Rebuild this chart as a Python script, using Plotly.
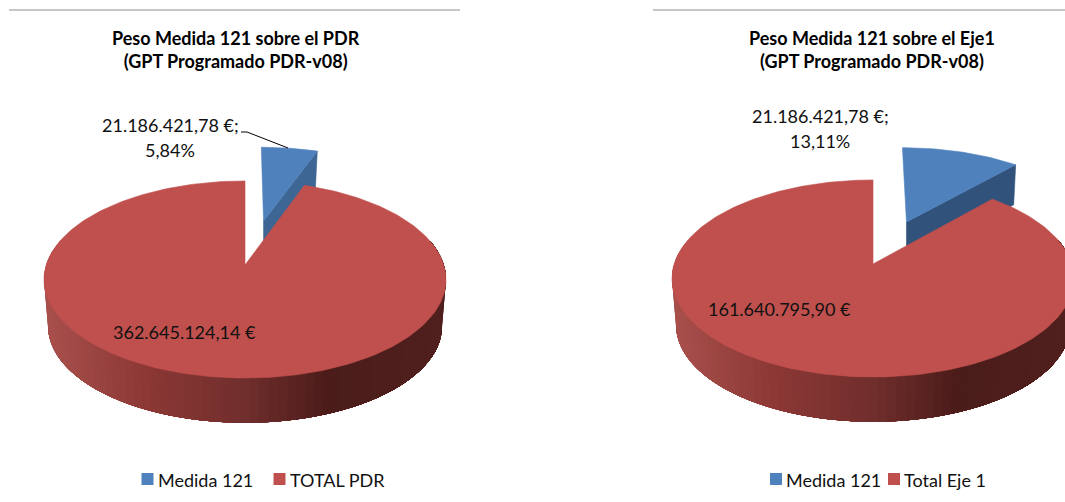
import numpy as np
import plotly.graph_objects as go

# --- data -------------------------------------------------------------
measure_value = 21186421.78
totals = [362645124.14, 161640795.90]
titles = ["Peso Medida 121 sobre el PDR<br>(GPT Programado PDR-v08)",
          "Peso Medida 121 sobre el Eje1<br>(GPT Programado PDR-v08)"]
legend_names = [["Medida 121", "TOTAL PDR"], ["Medida 121", "Total Eje 1"]]

# --- styling / layout --------------------------------------------------
W, H = 1065, 502
FONT = "Lato"
RED, BLUE = "#C0504D", "#4F81BD"
BLUE_SIDE = ["#3E6694", "#30527B"]
CENTER = [(245, 265), (873, 264)]
EXPLODE = [(0.10, 0.489), (0.18, 0.466)]
TITLE_X = [235.5, 872]
RULES = [(9, 460), (653, 1065)]
LABEL_POS = [(170, 125, 150), (820, 116, 141)]
TOTAL_LABEL_POS = [(184, 332), (779, 309)]
LEG_SWATCH = [(147.5, 279.5), (776, 894)]
K, A, B = 0.147, 96.4, 198.8       # perspective and foreshortening of the disc
DEPTH_SHIFT, DEPTH_SCALE = 47, 0.98


def euro(v):
    s = f"{v:,.2f}".replace(",", "X").replace(".", ",").replace("X", ".")
    return s + " €"


def project(c, u, v, lower=False):
    d = 1 + K * v
    X, Y = B * u / d, A * v / d
    if lower:
        X, Y = X * DEPTH_SCALE, Y * DEPTH_SCALE - DEPTH_SHIFT
    return c[0] + X, c[1] - Y


def rim(t, du=0.0, dv=0.0):
    return du + np.sin(t), dv + np.cos(t)


GRAD_X = [-200, -100, 0, 85, 200]
GRAD_C = [(168, 80, 76), (140, 56, 53), (112, 46, 44), (74, 28, 26), (80, 32, 30)]


def wall_colour(dx):
    c = [int(round(np.interp(dx, GRAD_X, [g[i] for g in GRAD_C]))) for i in range(3)]
    return f"rgb({c[0]},{c[1]},{c[2]})"


def poly(xs, ys, colour, edge=0.6):
    return go.Scatter(x=list(xs), y=list(ys), mode="lines", fill="toself",
                      fillcolor=colour, line=dict(color=colour, width=edge),
                      showlegend=False, hoverinfo="skip")


fig = go.Figure()
annotations, shapes = [], []

for i, total in enumerate(totals):
    c = CENTER[i]
    boundary = 2 * np.pi * measure_value / (measure_value + total)
    du, dv = EXPLODE[i]

    # exploded measure slice: cut face, then top
    ax, ay = project(c, du, dv)
    ex, ey = project(c, *rim(boundary, du, dv))
    drop = 40
    fig.add_trace(poly([ax, ex, ex - 2, ax, ax],
                       [ay, ey, ey + drop, ay + drop, ay], BLUE_SIDE[i]))
    t = np.linspace(0, boundary, 30)
    bx, by = project(c, *rim(t, du, dv))
    fig.add_trace(poly(np.r_[ax, bx, ax], np.r_[ay, by, ay], BLUE))

    # outer wall of the main slice: painted from right to left, each strip
    # reaching all the way to the right-hand end so no seams can show
    edges = np.linspace(np.radians(285), np.radians(75), 90)
    for a in edges[:-1][::1]:
        b = a - (edges[0] - edges[1])
    for n in range(len(edges) - 1):
        # strip n covers from edges[n] (left side) across to the right end
        tt = np.linspace(edges[n], edges[-1], 60)
        xt, yt = project(c, *rim(tt))
        xl, yl = project(c, *rim(tt), lower=True)
        mid = project(c, *rim((edges[n] + edges[n + 1]) / 2))[0] - c[0]
        fig.add_trace(poly(np.r_[xt, xl[::-1], xt[0]],
                           np.r_[yt, yl[::-1], yt[0]], wall_colour(mid), edge=0))

    # top of the main slice
    t = np.linspace(boundary, 2 * np.pi, 240)
    rx, ry = project(c, *rim(t))
    fig.add_trace(poly(np.r_[c[0], rx, c[0]], np.r_[c[1], ry, c[1]], RED))

    # title
    annotations.append(dict(x=TITLE_X[i], y=49.5, text=f"<b>{titles[i]}</b>",
                            font=dict(size=18, color="#000000", family=FONT),
                            showarrow=False, xanchor="center", yanchor="middle",
                            align="center"))
    # data labels
    lx, l1, l2 = LABEL_POS[i]
    annotations.append(dict(x=lx, y=l1, text=euro(measure_value) + ";",
                            showarrow=False, font=dict(size=18, color="#111111", family=FONT)))
    pct = f"{100 * measure_value / total:.2f}%".replace(".", ",")
    annotations.append(dict(x=lx, y=l2, text=pct, showarrow=False,
                            font=dict(size=18, color="#111111", family=FONT)))
    tx, ty = TOTAL_LABEL_POS[i]
    annotations.append(dict(x=tx, y=ty, text=euro(total), showarrow=False,
                            font=dict(size=18, color="#111111", family=FONT)))

    # legend
    colours = [BLUE, RED]
    for j, name in enumerate(legend_names[i]):
        sx = LEG_SWATCH[i][j]
        fig.add_trace(go.Scatter(x=[sx], y=[479], mode="markers", showlegend=False,
                                 hoverinfo="skip",
                                 marker=dict(symbol="square", size=12, color=colours[j])))
        annotations.append(dict(x=sx + 8, y=480, text=name, showarrow=False,
                                xanchor="left",
                                font=dict(size=18, color="#111111", family=FONT)))
    # horizontal rule above each chart
    shapes.append(dict(type="line", x0=RULES[i][0], x1=RULES[i][1], y0=10, y1=10,
                       line=dict(color="#B4B4B4", width=1.5)))

# leader line of the first chart
fig.add_trace(go.Scatter(x=[241, 247, 288], y=[132, 132, 148], mode="lines",
                         showlegend=False, hoverinfo="skip",
                         line=dict(color="#000000", width=1)))

fig.update_layout(width=W, height=H, margin=dict(l=0, r=0, t=0, b=0),
                  paper_bgcolor="white", plot_bgcolor="white",
                  showlegend=False, annotations=annotations, shapes=shapes,
                  xaxis=dict(range=[0, W], visible=False, fixedrange=True),
                  yaxis=dict(range=[H, 0], visible=False, fixedrange=True))
fig.write_html("out.html", config=dict(displayModeBar=False),
               post_script="document.body.style.margin='0';document.body.style.overflow='hidden';")
